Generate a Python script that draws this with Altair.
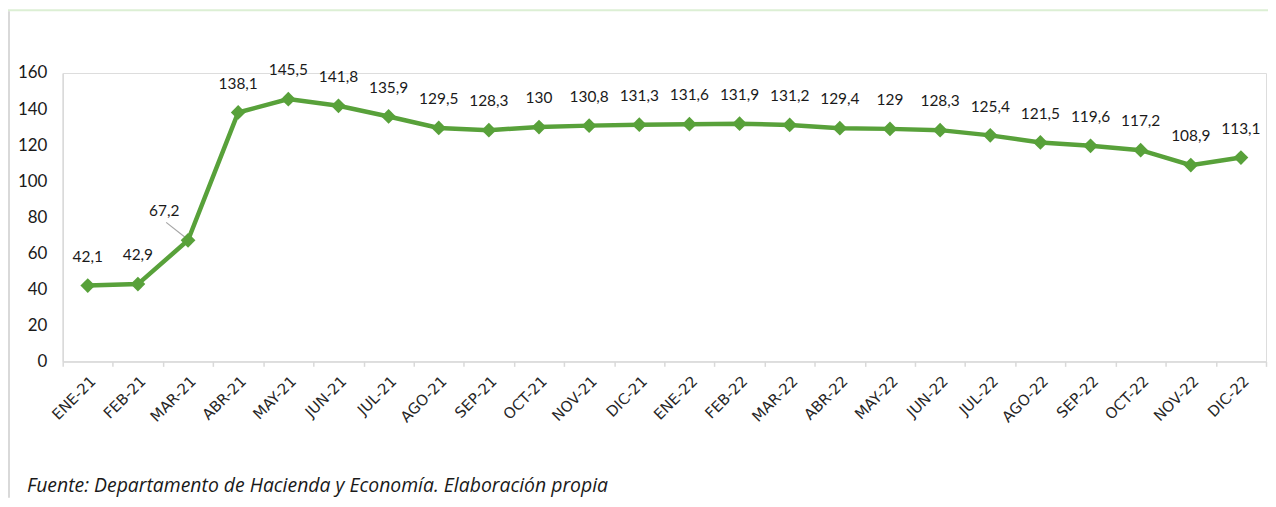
import altair as alt
import pandas as pd

months = ["ENE-21", "FEB-21", "MAR-21", "ABR-21", "MAY-21", "JUN-21", "JUL-21", "AGO-21",
          "SEP-21", "OCT-21", "NOV-21", "DIC-21", "ENE-22", "FEB-22", "MAR-22", "ABR-22",
          "MAY-22", "JUN-22", "JUL-22", "AGO-22", "SEP-22", "OCT-22", "NOV-22", "DIC-22"]
values = [42.1, 42.9, 67.2, 138.1, 145.5, 141.8, 135.9, 129.5, 128.3, 130, 130.8, 131.3,
          131.6, 131.9, 131.2, 129.4, 129, 128.3, 125.4, 121.5, 119.6, 117.2, 108.9, 113.1]
labels = [f"{v:g}".replace(".", ",") for v in values]
y_ticks = [0, 20, 40, 60, 80, 100, 120, 140, 160]
source_text = "Fuente: Departamento de Hacienda y Economía. Elaboración propia"

df = pd.DataFrame({"mes": months, "valor": values, "etiqueta": labels})

FONT = "Lato"
GREEN = "#58A13A"
W, H = 1210, 290

x_axis = alt.Axis(labelAngle=-45, labelFont="DejaVu Sans", labelFontSize=15,
                  labelColor="#262626", labelPadding=7, labelOverlap=False,
                  domainColor="#d9d9d9", domainWidth=1.5,
                  tickColor="#d9d9d9", tickWidth=1.5, tickSize=5,
                  tickBand="extent", grid=False, title=None)
y_axis = alt.Axis(values=y_ticks, labelFont=FONT, labelFontSize=17,
                  labelColor="#1a1a1a", labelPadding=16, ticks=False,
                  labelOverlap=False, tickCount=9,
                  domainColor="#d9d9d9", domainWidth=1.5, grid=False, title=None)

x_enc = alt.X("mes:N", sort=months, title=None,
              scale=alt.Scale(paddingInner=0, paddingOuter=0), axis=x_axis)
y_enc = alt.Y("valor:Q", title=None,
              scale=alt.Scale(domain=[0, 160], nice=False), axis=y_axis)

base = alt.Chart(df)

line = base.mark_line(color=GREEN, strokeWidth=4.5).encode(x=x_enc, y=y_enc)
points = base.mark_point(shape="diamond", filled=True, size=220, color=GREEN, opacity=1).encode(
    x=x_enc, y=y_enc)

text_main = base.transform_filter(alt.datum.mes != "MAR-21").mark_text(
    font=FONT, fontSize=15.5, color="#1a1a1a", dy=-29, baseline="middle").encode(
    x=x_enc, y=y_enc, text="etiqueta:N")
text_mar = base.transform_filter(alt.datum.mes == "MAR-21").mark_text(
    font=FONT, fontSize=15.5, color="#1a1a1a", dy=-29, dx=-24, baseline="middle").encode(
    x=x_enc, y=y_enc, text="etiqueta:N")
leader = base.transform_filter(alt.datum.mes == "MAR-21").mark_rule(
    color="#a6a6a6", strokeWidth=1.2, xOffset=-22, yOffset=-18, x2Offset=-3, y2Offset=-3).encode(
    x=x_enc, y=y_enc, x2="mes:N", y2="valor:Q")

deco = pd.DataFrame({"t": [source_text]})
footer = alt.Chart(deco).mark_text(font="Open Sans", fontSize=19.5, fontStyle="italic", color="#1a1a1a",
                                   align="left", baseline="alphabetic").encode(
    x=alt.value(-36), y=alt.value(421), text="t:N")
top_band = alt.Chart(deco).mark_rect(color="#dcefd4").encode(
    x=alt.value(-55), x2=alt.value(W + 2), y=alt.value(-64), y2=alt.value(-62))
left_border = alt.Chart(deco).mark_rule(color="#d9d9d9", strokeWidth=2).encode(
    x=alt.value(-54), y=alt.value(-62), y2=alt.value(H + 137))

chart = alt.layer(line, leader, points, text_main, text_mar, top_band, left_border, footer).properties(
    width=W, height=H,
    autosize=alt.AutoSizeParams(type="none"),
    padding={"left": 55, "top": 64, "right": 2, "bottom": 137},
).configure_view(stroke=None).configure(background="white")

chart.save("out.html", embed_options={"renderer": "svg", "actions": False})
